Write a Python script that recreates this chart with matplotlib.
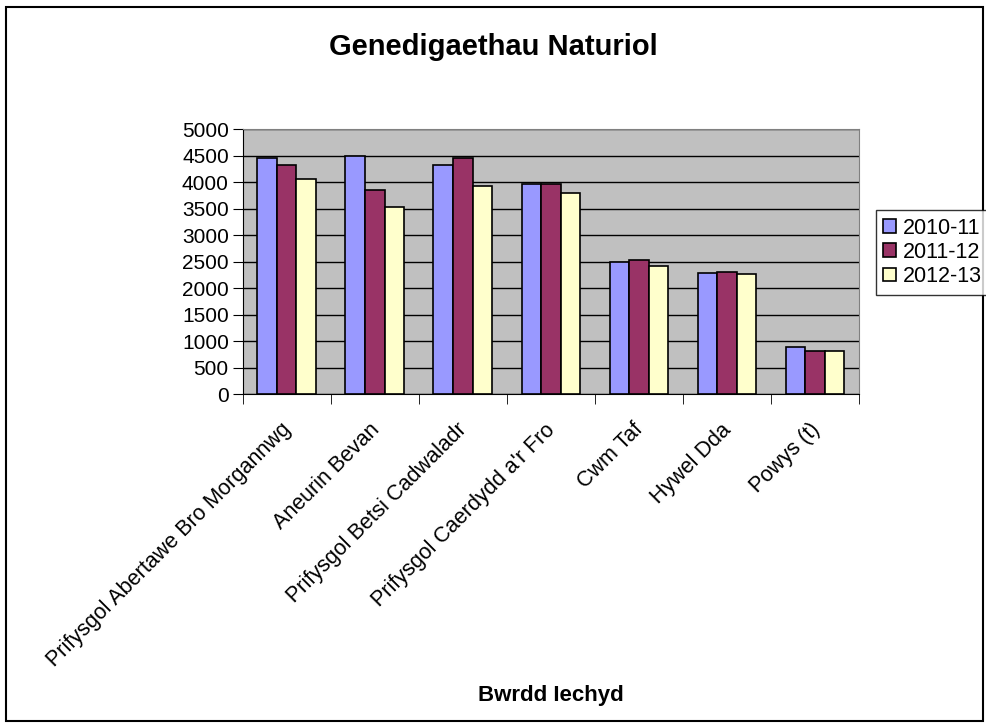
import matplotlib
matplotlib.use('Agg')
import matplotlib.pyplot as plt
import matplotlib.transforms as mtransforms
import numpy as np
from matplotlib.patches import Rectangle

plt.rcParams['font.family'] = ['Liberation Sans', 'DejaVu Sans']

# data
boards = ['Prifysgol Abertawe Bro Morgannwg', 'Aneurin Bevan', 'Prifysgol Betsi Cadwaladr',
          "Prifysgol Caerdydd a'r Fro", 'Cwm Taf', 'Hywel Dda', 'Powys (t)']
years = ['2010-11', '2011-12', '2012-13']
v_2010 = [4460, 4500, 4320, 3970, 2500, 2280, 900]
v_2011 = [4320, 3855, 4465, 3970, 2535, 2300, 810]
v_2012 = [4055, 3535, 3935, 3790, 2420, 2275, 810]
series = [v_2010, v_2011, v_2012]
colors = ['#9999FF', '#993366', '#FFFFCC']

fig = plt.figure(figsize=(9.86, 7.27), dpi=100)
ax = fig.add_axes([0.2461, 0.4576, 0.6251, 0.3645])
ax.set_facecolor('#C0C0C0')

x = np.arange(len(boards)) + 0.5
w = 0.222
for i, (vals, c, lab) in enumerate(zip(series, colors, years)):
    ax.bar(x + (i - 1) * w, vals, w, color=c, edgecolor='black', linewidth=1.2, label=lab, zorder=3)

ax.set_xlim(0, len(boards))
ax.set_ylim(0, 5000)
ax.set_yticks(np.arange(0, 5001, 500))
ax.yaxis.grid(True, color='black', linewidth=1, zorder=0)
ax.set_axisbelow(True)

ax.set_xticks(x)
ax.set_xticklabels(boards, rotation=45, ha='right', va='top', rotation_mode='anchor', fontsize=15.5)
ax.set_xticks(np.arange(0, len(boards) + 1), minor=True)
ax.tick_params(axis='x', which='major', length=0, pad=18)
ax.tick_params(axis='x', which='minor', length=7, direction='out')
ax.tick_params(axis='y', labelsize=15, length=7, direction='out', pad=3)
shift = mtransforms.ScaledTranslation(-6 / 100, 0, fig.dpi_scale_trans)
for lbl in ax.get_xticklabels():
    lbl.set_transform(lbl.get_transform() + shift)

for s in ['top', 'right']:
    ax.spines[s].set_color('#808080')
for s in ['left', 'bottom']:
    ax.spines[s].set_color('black')

fig.text(0.5, 0.936, 'Genedigaethau Naturiol', ha='center', va='center', fontsize=21, fontweight='bold')
fig.text(0.559, 0.043, 'Bwrdd Iechyd', ha='center', va='center', fontsize=16, fontweight='bold')

leg = fig.legend(loc='upper left', bbox_to_anchor=(0.888, 0.711), fontsize=15.5, frameon=True,
                 fancybox=False, edgecolor='black', handlelength=0.6, handleheight=0.6,
                 handletextpad=0.3, borderpad=0.35, labelspacing=0.15, borderaxespad=0)
leg.get_frame().set_linewidth(1)

fig.patches.append(Rectangle((0.006, 0.008), 0.991, 0.983, transform=fig.transFigure,
                             fill=False, edgecolor='black', linewidth=1.5))

fig.savefig('out.png', dpi=100)
